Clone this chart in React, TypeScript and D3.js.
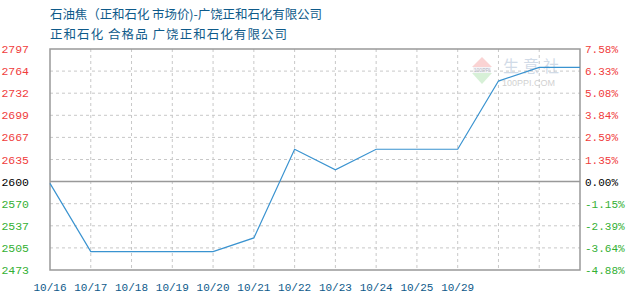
import React from "react";
import * as d3 from "d3";

const dates = ["10/16", "10/17", "10/18", "10/19", "10/20", "10/21", "10/22", "10/23", "10/24", "10/25", "10/29", "", "", ""];
const prices = [2600, 2500, 2500, 2500, 2500, 2520, 2650, 2620, 2650, 2650, 2650, 2750, 2770, 2770];
const leftTicks = ["2797", "2764", "2732", "2699", "2667", "2635", "2600", "2570", "2537", "2505", "2473"];
const rightTicks = ["7.58%", "6.33%", "5.08%", "3.84%", "2.59%", "1.35%", "0.00%", "-1.15%", "-2.39%", "-3.64%", "-4.88%"];
const tickSign = [1, 1, 1, 1, 1, 1, 0, -1, -1, -1, -1];
const title1 = "石油焦（正和石化 市场价)-广饶正和石化有限公司";
const title2 = "正和石化 合格品 广饶正和石化有限公司";
const yMin = 2473;
const yMax = 2797;

const W = 630, H = 300;
const L = 50, R = 580, T = 49, B = 270;

export default function App() {
  const x = d3.scalePoint<number>().domain(d3.range(dates.length)).range([L, R]);
  const y = d3.scaleLinear().domain([yMin, yMax]).range([B, T]);
  const tickPos = d3.range(leftTicks.length).map((i) => y(yMax - (i * (yMax - yMin)) / (leftTicks.length - 1)));
  const line = d3.line<number>().x((_, i) => x(i)!).y((d) => y(d));
  const color = (s: number) => (s > 0 ? "#f03c3c" : s < 0 ? "#33b033" : "#000");
  const blue = "#0e5a8a";
  const mono = "'Liberation Mono', monospace";
  return (
    <svg width={W} height={H} style={{ position: "absolute", left: 0, top: 0, background: "#fff" }}>
      <rect width={W} height={H} fill="#fff" />
      <text x={L} y={19} fontSize={12.5} fill={blue} fontFamily="'Noto Sans CJK SC'" textLength={272} lengthAdjust="spacing">{title1}</text>
      <text x={L} y={39} fontSize={12.5} fill={blue} fontFamily="'Noto Sans CJK SC'" textLength={237} lengthAdjust="spacing">{title2}</text>
      {/* watermark */}
      <g opacity={0.45}>
        <path d="M482,57 L472,67 L492,67 Z" fill="#f4a0a0" />
        <rect x={473} y={67} width={18} height={6} fill="#e8e8ee" />
        <text x={482} y={72} fontSize={5} textAnchor="middle" fill="#557" fontFamily="sans-serif">100PPI</text>
        <path d="M472,73 L492,73 L482,84 Z" fill="#a8e0a8" />
        <text x={503} y={72} fontSize={16} fill="#9ab0cc" fontFamily="'Noto Sans CJK SC'" letterSpacing={4}>生意社</text>
        <text x={502} y={86} fontSize={9} fill="#999" fontFamily="sans-serif">100PPI.COM</text>
      </g>
      {/* grid */}
      {tickPos.map((p, i) =>
        tickSign[i] === 0 || i === 0 || i === leftTicks.length - 1 ? null : (
          <line key={"h" + i} x1={L} x2={R} y1={p} y2={p} stroke="#c8c8c8" strokeDasharray="3,3" />
        )
      )}
      {d3.range(1, dates.length - 1).map((i) => (
        <line key={"v" + i} x1={x(i)} x2={x(i)} y1={T} y2={B} stroke="#c8c8c8" strokeDasharray="3,3" />
      ))}
      {tickPos.map((p, i) =>
        tickSign[i] === 0 ? <line key="zero" x1={L} x2={R} y1={p} y2={p} stroke="#999" strokeWidth={1.5} /> : null
      )}
      <rect x={L} y={T} width={R - L} height={B - T} fill="none" stroke="#999" strokeWidth={1.5} />
      <path d={line(prices)!} fill="none" stroke="#3a93d0" strokeWidth={1.2} />
      {tickPos.map((p, i) => (
        <text key={"l" + i} x={29} y={p + 4} fontSize={11.5} textAnchor="end" fill={color(tickSign[i])} fontFamily={mono}>
          {leftTicks[i]}
        </text>
      ))}
      {tickPos.map((p, i) => (
        <text key={"r" + i} x={585} y={p + 4} fontSize={11} fill={color(tickSign[i])} fontFamily={mono}>
          {rightTicks[i]}
        </text>
      ))}
      {dates.map((d, i) => (
        <text key={"d" + i} x={x(i)} y={291} fontSize={11} textAnchor="middle" fill={blue} fontFamily={mono}>
          {d}
        </text>
      ))}
    </svg>
  );
}
